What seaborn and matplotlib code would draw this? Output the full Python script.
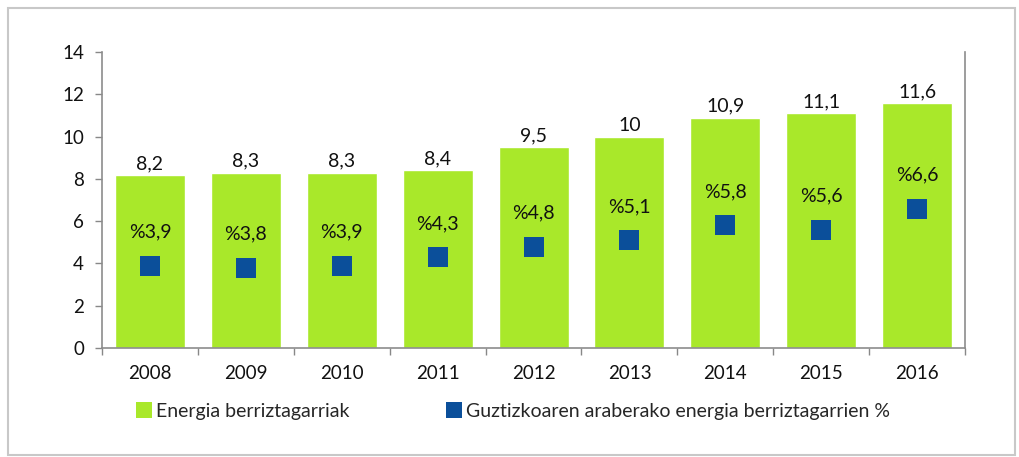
import matplotlib
matplotlib.use("Agg")
import matplotlib.pyplot as plt
import seaborn as sns
import pandas as pd
from matplotlib.patches import Rectangle
from matplotlib.lines import Line2D

years = ["2008", "2009", "2010", "2011", "2012", "2013", "2014", "2015", "2016"]
energia = [8.2, 8.3, 8.3, 8.4, 9.5, 10.0, 10.9, 11.1, 11.6]
portzentaia = [3.9, 3.8, 3.9, 4.3, 4.8, 5.1, 5.8, 5.6, 6.6]
bar_labels = ["8,2", "8,3", "8,3", "8,4", "9,5", "10", "10,9", "11,1", "11,6"]
pct_labels = ["%3,9", "%3,8", "%3,9", "%4,3", "%4,8", "%5,1", "%5,8", "%5,6", "%6,6"]
series_names = ["Energia berriztagarriak", "Guztizkoaren araberako energia berriztagarrien %"]

GREEN = "#A9E82A"
BLUE = "#0B4F9A"

sns.set_theme(style="white")
plt.rcParams["font.family"] = ["Lato", "DejaVu Sans"]

df = pd.DataFrame({"urtea": years, "energia": energia, "pct": portzentaia})

fig = plt.figure(figsize=(10.19, 4.57), dpi=100)
ax = fig.add_axes([0.1001, 0.2385, 0.847, 0.6475])

sns.barplot(data=df, x="urtea", y="energia", color=GREEN, saturation=1,
            width=0.73, ax=ax, zorder=2)
sns.scatterplot(data=df, x="urtea", y="pct", color=BLUE, marker="s", s=190,
                linewidth=0, ax=ax, zorder=3)

FS = 14
for i, (v, lab) in enumerate(zip(energia, bar_labels)):
    ax.annotate(lab, (i, v), xytext=(0, 2), textcoords="offset points",
                ha="center", va="bottom", fontsize=FS, color="#111111")
for i, (v, lab) in enumerate(zip(portzentaia, pct_labels)):
    ax.annotate(lab, (i, v), xytext=(0, 18), textcoords="offset points",
                ha="center", va="bottom", fontsize=FS, color="#111111")

ax.set_ylim(0, 14)
ax.set_xlim(-0.5, 8.5)
ax.set_yticks(range(0, 15, 2))
ax.set_xlabel("")
ax.set_ylabel("")
ax.tick_params(axis="both", labelsize=13.5, colors="#111111", length=0, pad=6)
ax.tick_params(axis="y", which="both", left=True, length=5, color="#888888", width=1, pad=8)
ax.set_xticks([i + 0.5 for i in range(-1, 9)], minor=True)
ax.tick_params(axis="x", which="minor", bottom=True, length=5, color="#888888", width=1)
ax.tick_params(axis="x", which="major", pad=12)

for side in ["left", "bottom", "right"]:
    ax.spines[side].set_visible(True)
    ax.spines[side].set_color("#8C8C8C")
    ax.spines[side].set_linewidth(1.2)
ax.spines["top"].set_visible(False)
ax.grid(False)

handles = [
    Line2D([], [], marker="s", linestyle="none", markersize=11, markerfacecolor=GREEN,
           markeredgewidth=0, label=series_names[0]),
    Line2D([], [], marker="s", linestyle="none", markersize=11, markerfacecolor=BLUE,
           markeredgewidth=0, label=series_names[1]),
]
fig.legend(handles=handles, loc="center left", bbox_to_anchor=(0.1335, 0.100), ncol=2,
           frameon=False, fontsize=FS, handlelength=0.8, handletextpad=0.22,
           columnspacing=5.0, borderpad=0, borderaxespad=0)

fig.patches.append(Rectangle((0.008, 0.004), 0.988, 0.978, transform=fig.transFigure,
                             fill=False, edgecolor="#C8C8C8", linewidth=1.5))

fig.savefig("out.png", dpi=100)
